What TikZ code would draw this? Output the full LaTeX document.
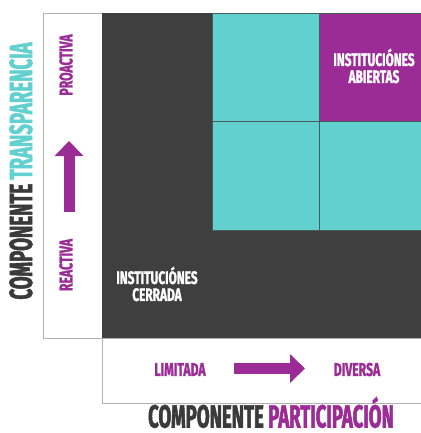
\documentclass[tikz,border=0pt]{standalone}
\usepackage{fontspec}
\usepackage{tikz}
\usetikzlibrary{arrows.meta}
\newfontfamily\titlefont{Fira Sans}[FakeStretch=0.58,FakeBold=1.6]
\newfontfamily\labelfont{Fira Sans}[FakeStretch=0.66,FakeBold=1.4]
\definecolor{matdark}{HTML}{3F3F3F}
\definecolor{matcyan}{HTML}{62D0CF}
\definecolor{matpurple}{HTML}{9B2C96}
\definecolor{matframe}{HTML}{B2B2B2}
\definecolor{mattext}{HTML}{3A3A3A}
\newcommand{\celllo}{212}
\newcommand{\cellmid}{319}
\newcommand{\cellhi}{426}
\newcommand{\celltop}{13}
\newcommand{\cellrow}{121}
\newcommand{\cellbot}{230}
\tikzset{
  panel/.style={draw=matframe,line width=0.8pt,fill=white},
  cell/.style={draw=matdark!80!matcyan,line width=0.9pt},
  axislabel/.style={font=\labelfont\bfseries\fontsize{18.5}{19}\selectfont,text=matpurple,inner sep=0pt},
  quadlabel/.style={font=\labelfont\bfseries\fontsize{18}{17}\selectfont,text=white,align=center,inner sep=0pt},
  axistitle/.style={font=\titlefont\bfseries\fontsize{32}{34}\selectfont,text=mattext,inner sep=0pt,anchor=base},
  blockarrow/.style={draw=matpurple,line width=11pt,-{Triangle[length=15pt,width=28pt]}}
}
\begin{document}
\begin{tikzpicture}[x=1pt,y=-1pt]
  \useasboundingbox (0,0) rectangle (420,433);
  % side and bottom panels
  \draw[panel] (43,13) rectangle (102,338);
  \draw[panel] (102,338) rectangle (421,403);
  % dark field
  \fill[matdark] (102,13) rectangle (421,338);
  % quadrants
  \filldraw[cell,fill=matcyan] (\celllo,\celltop) rectangle (\cellmid,\cellrow);
  \filldraw[cell,fill=matpurple] (\cellmid,\celltop) rectangle (\cellhi,\cellrow);
  \filldraw[cell,fill=matcyan] (\celllo,\cellrow) rectangle (\cellmid,\cellbot);
  \filldraw[cell,fill=matcyan] (\cellmid,\cellrow) rectangle (\cellhi,\cellbot);
  \node[quadlabel] (abiertas) at (374,66) {INSTITUCIÓNES\\ABIERTAS};
  \node[quadlabel] (cerrada) at (157,284) {INSTITUCIÓNES\\CERRADA};
  % transparency axis
  \node[axislabel,rotate=90] (proactiva) at (66,65) {PROACTIVA};
  \node[axislabel,rotate=90] (reactiva) at (66,265) {REACTIVA};
  \coordinate (upfrom) at (69,212);
  \coordinate (upto) at (69,141);
  \draw[blockarrow] (upfrom) -- (upto);
  % participation axis
  \node[axislabel] (limitada) at (180,369.5) {LIMITADA};
  \node[axislabel] (diversa) at (357,369.5) {DIVERSA};
  \coordinate (rightfrom) at (234,368.5);
  \coordinate (rightto) at (305,368.5);
  \draw[blockarrow] (rightfrom) -- (rightto);
  % titles
  \node[axistitle,rotate=90] (transparencia) at (32,171)
    {COMPONENTE {\color{matcyan}TRANSPARENCIA}};
  \node[axistitle] (participacion) at (271,427.5)
    {COMPONENTE {\color{matpurple}PARTICIPACIÓN}};
\end{tikzpicture}
\end{document}
